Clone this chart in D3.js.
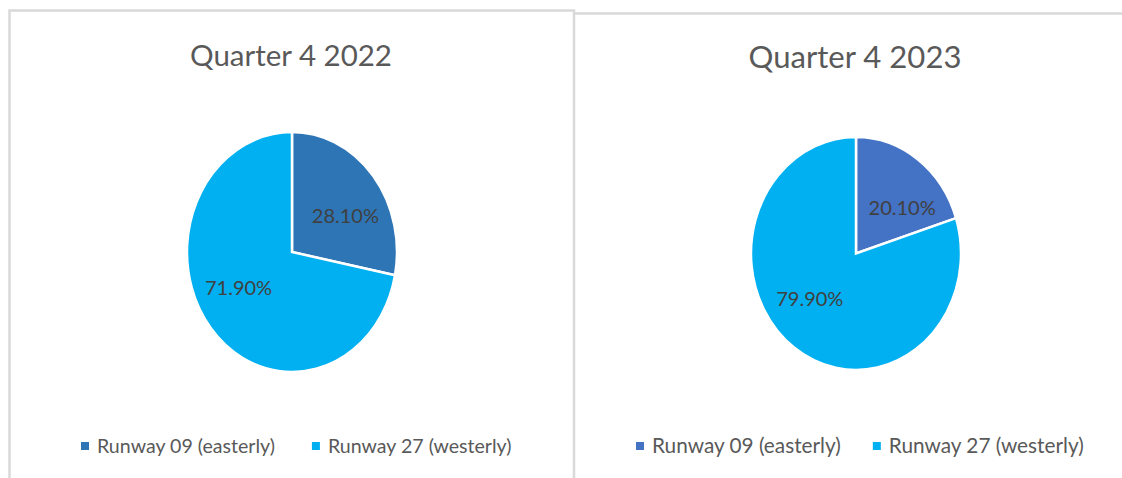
<!DOCTYPE html>
<html>
<head>
<meta charset="utf-8">
<script src="https://cdn.jsdelivr.net/npm/d3@7/dist/d3.min.js"></script>
<style>
  html, body { margin: 0; padding: 0; background: #ffffff; }
  svg { display: block; }
</style>
</head>
<body>
<script>
// ---- Data ----
const categories = ["Runway 09 (easterly)", "Runway 27 (westerly)"];
const chartTitles = ["Quarter 4 2022", "Quarter 4 2023"];
const q4_2022 = [28.1, 71.9];
const q4_2023 = [20.1, 79.9];

// ---- Layout / style ----
const W = 1122, H = 478;
const FONT = "Lato, 'Open Sans', sans-serif";
const panels = [
  { values: q4_2022, title: chartTitles[0], colors: ["#2E75B6", "#00B0F0"],
    cx: 292, cy: 252, rx: 105, ry: 120, titleX: 291, titleY: 66, titleW: 202,
    legendX: 81, legendY: 446, legendTextW: 178, legendGap: 37, labelShift: 9 },
  { values: q4_2023, title: chartTitles[1], colors: ["#4472C4", "#00B0F0"],
    cx: 856, cy: 253.5, rx: 105, ry: 116.5, titleX: 855, titleY: 68, titleW: 213,
    legendX: 636, legendY: 446, legendTextW: 189, legendGap: 32, labelShift: 12 }
];

const svg = d3.select("body").append("svg")
  .attr("width", W).attr("height", H);

// panel borders
svg.append("path")
  .attr("d", `M9.5,${H + 5} L9.5,10.5 L574,10.5 L574,${H + 5}`)
  .attr("fill", "none").attr("stroke", "#d9d9d9").attr("stroke-width", 2.5);
svg.append("path")
  .attr("d", `M575,13.5 L${W + 5},13.5`)
  .attr("fill", "none").attr("stroke", "#d9d9d9").attr("stroke-width", 2.5);

const fmt = v => d3.format(".2f")(v) + "%";

function fitFont(textSel, targetW, baseSize) {
  const w = textSel.node().getComputedTextLength();
  const s = w > 0 ? baseSize * targetW / w : baseSize;
  textSel.attr("font-size", s);
  return s;
}

panels.forEach(p => {
  const g = svg.append("g");

  // title
  const t = g.append("text")
    .attr("x", p.titleX).attr("y", p.titleY)
    .attr("text-anchor", "middle")
    .attr("font-family", FONT).attr("font-size", 29)
    .attr("fill", "#595959")
    .text(p.title);
  fitFont(t, p.titleW, 29);

  // pie (elliptical by vertical scale)
  const pie = d3.pie().sort(null).value(d => d)(p.values);
  const arc = d3.arc().innerRadius(0).outerRadius(p.rx);
  const sy = p.ry / p.rx;
  const pg = g.append("g")
    .attr("transform", `translate(${p.cx},${p.cy}) scale(1,${sy})`);
  pg.selectAll("path").data(pie).join("path")
    .attr("d", arc)
    .attr("fill", (d, i) => p.colors[i])
    .attr("stroke", "#ffffff")
    .attr("stroke-width", 2.5)
    .attr("vector-effect", "non-scaling-stroke")
    .attr("stroke-linejoin", "miter");

  // data labels
  const labelR = p.rx * 0.59;
  const shift = p.labelShift * Math.PI / 180;
  g.selectAll("text.lbl").data(pie).join("text")
    .attr("class", "lbl")
    .attr("x", d => p.cx + Math.sin((d.startAngle + d.endAngle) / 2 + shift) * labelR)
    .attr("y", d => p.cy - Math.cos((d.startAngle + d.endAngle) / 2 + shift) * labelR * sy)
    .attr("dy", "0.35em")
    .attr("text-anchor", "middle")
    .attr("font-family", FONT).attr("font-size", 20)
    .attr("fill", "#404040")
    .text(d => fmt(d.data));

  // legend
  const lg = g.append("g");
  const items = lg.selectAll("g").data(categories).join("g");
  items.append("rect")
    .attr("width", 8).attr("height", 8)
    .attr("fill", (d, i) => p.colors[i]);
  const lt = items.append("text")
    .attr("x", 16).attr("y", 4)
    .attr("dy", "0.35em")
    .attr("font-family", FONT).attr("font-size", 18)
    .attr("fill", "#595959")
    .text(d => d);
  const w0 = lt.nodes()[0].getComputedTextLength();
  lt.attr("font-size", 18 * p.legendTextW / w0);
  const widths = lt.nodes().map(n => 16 + n.getComputedTextLength());
  let x0 = p.legendX;
  items.attr("transform", (d, i) => {
    const x = x0;
    x0 += widths[i] + p.legendGap;
    return `translate(${x},${p.legendY - 4})`;
  });
});
</script>
</body>
</html>
